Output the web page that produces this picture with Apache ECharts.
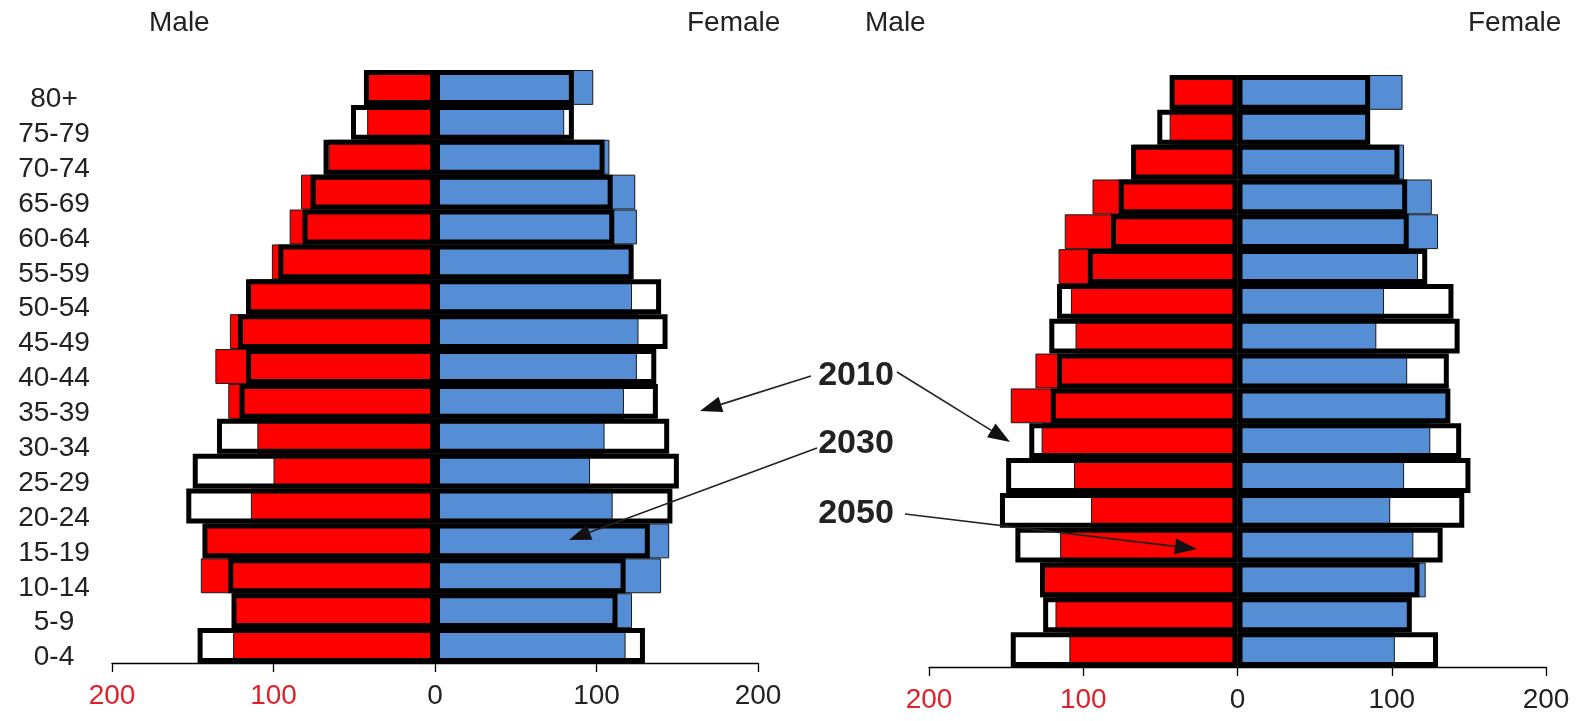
<!DOCTYPE html>
<html>
<head>
<meta charset="utf-8">
<script src="https://cdn.jsdelivr.net/npm/echarts@6/dist/echarts.min.js"></script>
<style>
html,body{margin:0;padding:0;background:#fff;}
#chart{width:1578px;height:721px;}
</style>
</head>
<body>
<div id="chart"></div>
<script>
const ageGroups = ['80+','75-79','70-74','65-69','60-64','55-59','50-54','45-49','40-44','35-39','30-34','25-29','20-24','15-19','10-14','5-9','0-4'];
const male2010   = [44,52,69,77,82,97,117,122,117,121,135,150,154,144,128,126,147];
const female2010 = [86,86,105,110,111,123,140,144,137,138,145,151,147,133,118,113,130];
const male2030   = [43,42,66,83,90,101,115,127,136,128,110,100,114,143,145,125,125];
const female2030 = [98,80,108,124,125,122,122,126,125,117,105,96,110,145,140,122,118];
const male2050   = [43,44,68,94,112,116,108,105,131,147,127,106,95,115,128,118,109];
const female2050 = [107,85,108,126,130,117,95,90,110,136,125,108,99,114,122,112,102];
const xTicks = [-200,-100,0,100,200];
const sideLabels = ['Male','Female'];
const yearLabels = ['2010','2030','2050'];

const RED = '#ff0000', BLUE = '#558ed5';
const FONT = 'Liberation Sans, Arial, sans-serif';

function xAxis(i){
  return {
    type:'value', gridIndex:i, min:xTicks[0], max:xTicks[xTicks.length-1], interval:100,
    axisLine:{show:true,onZero:false,lineStyle:{color:'#000',width:1.3}},
    axisTick:{show:true,length:9,lineStyle:{color:'#000',width:1.3}},
    splitLine:{show:false},
    axisLabel:{
      margin:19, fontSize:28, fontFamily:FONT,
      formatter:v=>String(Math.abs(v)),
      color:(v)=> (Number(v) < 0 ? '#e0202a' : '#222')
    }
  };
}
function yAxis(i){
  return {
    type:'category', gridIndex:i, data:ageGroups, inverse:true,
    axisLine:{show:false}, axisTick:{show:false}, splitLine:{show:false},
    axisLabel:{show:i===0, interval:0, hideOverlap:false, align:'center', margin:58,
      verticalAlign:'top', lineHeight:24,
      fontSize:28, fontFamily:FONT, color:'#222'}
  };
}
function colored(i,vals,color,neg){
  return {
    type:'bar', xAxisIndex:i, yAxisIndex:i, data:vals.map(v=>neg?-v:v),
    barGap:'-100%', barCategoryGap:'0%', clip:false, z:2,
    itemStyle:{color:color,borderColor:'#1a1a1a',borderWidth:1},
    emphasis:{disabled:true}, silent:true
  };
}
function outline(i,vals,neg){
  return {
    type:'bar', xAxisIndex:i, yAxisIndex:i, data:vals.map(v=>neg?-v:v),
    barGap:'-100%', barCategoryGap:'0%', clip:false, z:3,
    itemStyle:{color:'rgba(0,0,0,0)',borderColor:'#000',borderWidth:5},
    emphasis:{disabled:true}, silent:true
  };
}

function arrow(x1,y1,x2,y2){
  const a = Math.atan2(y2-y1,x2-x1), L=22, W=8;
  const c=Math.cos(a), s=Math.sin(a);
  const bx=x2-L*c, by=y2-L*s;
  return [
    {type:'line',shape:{x1:x1,y1:y1,x2:bx,y2:by},style:{stroke:'#222',lineWidth:1.6},z:10,silent:true},
    {type:'polygon',shape:{points:[[x2,y2],[bx-W*s,by+W*c],[bx+W*s,by-W*c]]},style:{fill:'#111'},z:10,silent:true}
  ];
}
function txt(t,x,y,opts){
  return {type:'text',z:10,silent:true,style:{text:t,x:x,y:y,fill:'#222',
    font:(opts&&opts.font)||('28px '+FONT),textAlign:(opts&&opts.align)||'left',textVerticalAlign:'middle'}};
}

const chart = echarts.init(document.getElementById('chart'), null, {renderer:'canvas'});
chart.setOption({
  animation:false,
  backgroundColor:'#fff',
  grid:[
    {left:112, width:646, top:70, height:593},
    {left:929, width:617, top:75, height:592}
  ],
  xAxis:[xAxis(0), xAxis(1)],
  yAxis:[yAxis(0), yAxis(1)],
  series:[
    colored(0,male2030,RED,true),
    colored(0,female2030,BLUE,false),
    outline(0,male2010,true),
    outline(0,female2010,false),
    colored(1,male2050,RED,true),
    colored(1,female2050,BLUE,false),
    outline(1,male2010,true),
    outline(1,female2010,false)
  ],
  graphic:[
    txt(sideLabels[0],149,23),
    txt(sideLabels[1],687,23),
    txt(sideLabels[0],865,23),
    txt(sideLabels[1],1468,23),
    txt(yearLabels[0],856,376,{font:'bold 34px '+FONT,align:'center'}),
    txt(yearLabels[1],856,444,{font:'bold 34px '+FONT,align:'center'}),
    txt(yearLabels[2],856,514,{font:'bold 34px '+FONT,align:'center'}),
    ...arrow(811,376,700,411),
    ...arrow(897,372,1010,442),
    ...arrow(817,448,569,540),
    ...arrow(905,514,1197,549)
  ]
});
</script>
</body>
</html>
